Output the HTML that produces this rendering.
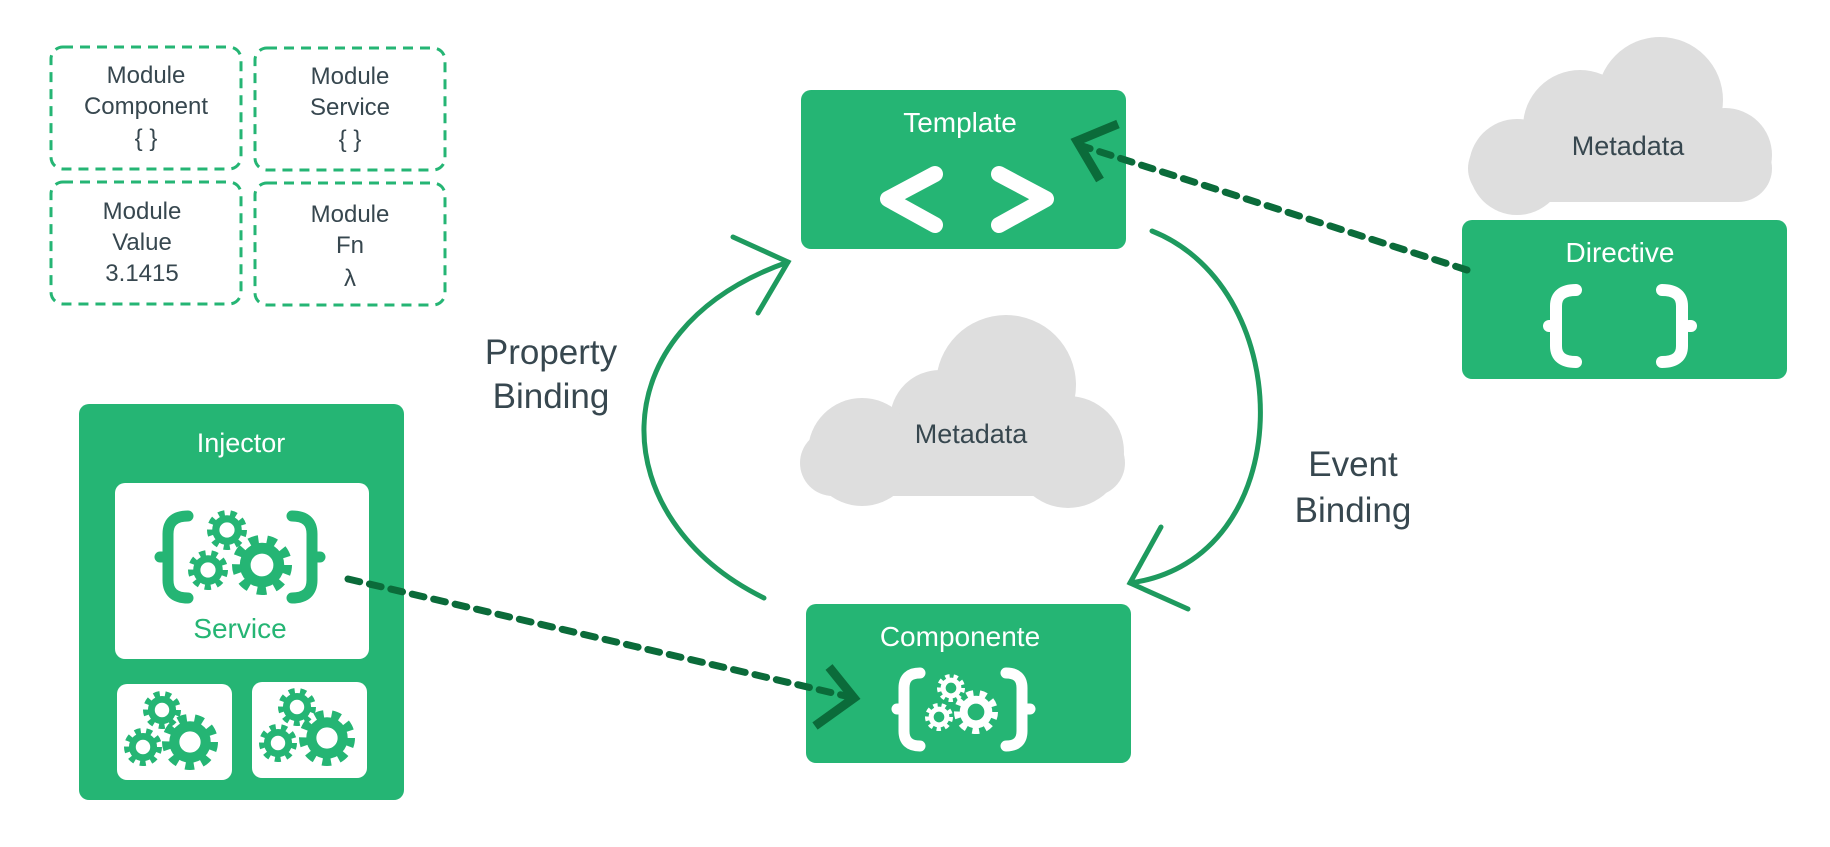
<!DOCTYPE html>
<html><head><meta charset="utf-8"><style>
html,body{margin:0;padding:0;background:#fff}
svg{display:block}
text{font-family:"Liberation Sans",sans-serif}
</style></head><body>
<svg width="1830" height="847" viewBox="0 0 1830 847" xmlns="http://www.w3.org/2000/svg">
<defs>
<symbol id="gear" viewBox="-10 -10 20 20" overflow="visible">
<circle r="5.6" fill="none" stroke="currentColor" stroke-width="3.6"/>
<circle r="8.5" fill="none" stroke="currentColor" stroke-width="3" stroke-dasharray="3.1 2.85"/>
</symbol>
</defs>

<!-- dashed module boxes -->
<g fill="none" stroke="#25b574" stroke-width="3" stroke-dasharray="10 7">
<rect x="51" y="47" width="190" height="122" rx="12"/>
<rect x="255" y="48" width="190" height="122" rx="12"/>
<rect x="51" y="182" width="190" height="122" rx="12"/>
<rect x="255" y="183" width="190" height="122" rx="12"/>
</g>
<g fill="#37474f" font-size="24" text-anchor="middle">
<text x="146" y="83">Module</text><text x="146" y="114">Component</text><text x="146" y="146">{ }</text>
<text x="350" y="84">Module</text><text x="350" y="115">Service</text><text x="350" y="147">{ }</text>
<text x="142" y="219">Module</text><text x="142" y="250">Value</text><text x="142" y="281">3.1415</text>
<text x="350" y="222">Module</text><text x="350" y="253">Fn</text><text x="350" y="286">λ</text>
</g>

<!-- clouds -->
<g fill="#dedede">
<circle cx="1660" cy="100" r="63"/><circle cx="1580" cy="127" r="57"/>
<circle cx="1517" cy="167" r="48"/><circle cx="1725" cy="155" r="47"/>
<rect x="1468" y="135" width="304" height="67" rx="34"/>
<circle cx="1006" cy="385" r="70"/><circle cx="940" cy="420" r="50"/>
<circle cx="862" cy="452" r="54"/><circle cx="1068" cy="452" r="56"/>
<rect x="800" y="430" width="325" height="66" rx="33"/>
</g>
<g fill="#37474f" font-size="27" text-anchor="middle">
<text x="1628" y="155">Metadata</text>
<text x="971" y="443">Metadata</text>
</g>

<!-- Template -->
<rect x="801" y="90" width="325" height="159" rx="10" fill="#25b574"/>
<text x="960" y="132" fill="#fff" font-size="28" text-anchor="middle">Template</text>
<g fill="none" stroke="#fff" stroke-width="16" stroke-linecap="round" stroke-linejoin="round">
<polyline points="935,174 888,199 935,225"/>
<polyline points="999,174 1046,199 999,225"/>
</g>

<!-- Directive -->
<rect x="1462" y="220" width="325" height="159" rx="10" fill="#25b574"/>
<text x="1620" y="262" fill="#fff" font-size="28" text-anchor="middle">Directive</text>
<g fill="none" stroke="#fff" stroke-width="12" stroke-linecap="round">
<path d="M1576,290 Q1556,290 1556,306 L1556,346 Q1556,362 1576,362"/>
<path d="M1662,290 Q1682,290 1682,306 L1682,346 Q1682,362 1662,362"/>
<path d="M1549,326 L1551,326"/><path d="M1689,326 L1691,326"/>
</g>

<!-- Componente -->
<rect x="806" y="604" width="325" height="159" rx="10" fill="#25b574"/>
<text x="960" y="646" fill="#fff" font-size="28" text-anchor="middle">Componente</text>
<g fill="none" stroke="#fff" stroke-width="11" stroke-linecap="round">
<path d="M920,673 Q904,673 904,688 L904,731 Q904,746 920,746"/>
<path d="M1006,673 Q1022,673 1022,688 L1022,731 Q1022,746 1006,746"/>
<path d="M897,709 L899,709"/><path d="M1028,709 L1030,709"/>
</g>
<g color="#fff">
<use href="#gear" x="937" y="674" width="28" height="28"/>
<use href="#gear" x="925" y="703" width="28" height="28"/>
<use href="#gear" x="954" y="690" width="44" height="44"/>
</g>

<!-- Injector -->
<rect x="79" y="404" width="325" height="396" rx="10" fill="#25b574"/>
<text x="241" y="452" fill="#fff" font-size="27" text-anchor="middle">Injector</text>
<rect x="115" y="483" width="254" height="176" rx="10" fill="#fff"/>
<rect x="117" y="684" width="115" height="96" rx="10" fill="#fff"/>
<rect x="252" y="682" width="115" height="96" rx="10" fill="#fff"/>
<g fill="none" stroke="#25b574" stroke-width="11" stroke-linecap="round">
<path d="M188,516 Q168,516 168,534 L168,580 Q168,598 188,598"/>
<path d="M292,516 Q312,516 312,534 L312,580 Q312,598 292,598"/>
<path d="M160,557 L162,557"/><path d="M318,557 L320,557"/>
</g>
<text x="240" y="638" fill="#25b574" font-size="28" text-anchor="middle">Service</text>
<g color="#25b574">
<use href="#gear" x="207" y="510" width="40" height="40"/>
<use href="#gear" x="188" y="550" width="40" height="40"/>
<use href="#gear" x="232" y="535" width="60" height="60"/>
<use href="#gear" x="143" y="691" width="38" height="38"/>
<use href="#gear" x="124" y="728" width="38" height="38"/>
<use href="#gear" x="162" y="714" width="56" height="56"/>
<use href="#gear" x="278" y="688" width="38" height="38"/>
<use href="#gear" x="259" y="724" width="38" height="38"/>
<use href="#gear" x="299" y="710" width="56" height="56"/>
</g>

<!-- binding arcs -->
<g fill="none" stroke="#1e9a5e" stroke-width="5" stroke-linecap="round">
<path d="M764,598 C605,520 595,330 788,262"/>
<polyline points="733,237 788,262 758,313"/>
<path d="M1152,231 C1300,290 1300,560 1130,583"/>
<polyline points="1161,527 1130,583 1188,609"/>
</g>
<g fill="#37474f" font-size="35" text-anchor="middle">
<text x="551" y="364">Property</text>
<text x="551" y="408">Binding</text>
<text x="1353" y="476">Event</text>
<text x="1353" y="522">Binding</text>
</g>

<!-- dashed dependency lines -->
<g fill="none" stroke="#0b6b3a" stroke-width="7" stroke-linecap="round">
<path d="M1467,270 L1082,146" stroke-dasharray="12 10"/>
<path d="M348,579 L850,697" stroke-dasharray="12 10"/>
</g>
<g fill="none" stroke="#0b6b3a" stroke-width="9">
<polyline points="1118,124 1077,141 1100,180"/>
<polyline points="829,667 854,698 815,726"/>
</g>
</svg>
</body></html>
